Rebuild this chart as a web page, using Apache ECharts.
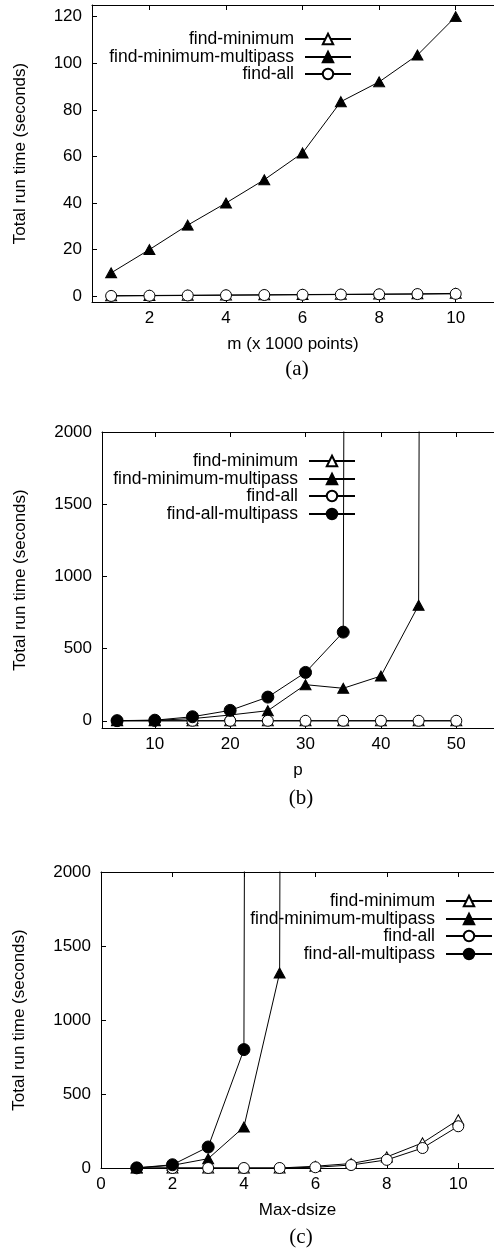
<!DOCTYPE html>
<html>
<head>
<meta charset="utf-8">
<script src="https://cdn.jsdelivr.net/npm/echarts@6/dist/echarts.min.js"></script>
<style>
  html, body { margin: 0; padding: 0; background: #fff; }
  #chart { width: 494px; height: 1252px; }
</style>
</head>
<body>
<div id="chart"></div>
<script>
// (a) run time vs m
const mValues = [1, 2, 3, 4, 5, 6, 7, 8, 9, 10];
const aFindMinimum = [0.2, 0.3, 0.4, 0.5, 0.6, 0.7, 0.8, 0.9, 1.0, 1.2];
const aFindMinimumMultipass = [10, 20, 30.5, 40, 50, 61.5, 83.5, 92, 103.5, 120];
const aFindAll = [0.1, 0.2, 0.3, 0.4, 0.5, 0.6, 0.7, 0.8, 0.9, 1.0];

// (b) run time vs p
const pValues = [5, 10, 15, 20, 25, 30, 35, 40, 45, 50];
const bFindMinimum = [0, 0, 0, 0, 0, 0, 0, 0, 0, 0];
const bFindMinimumMultipass = [1, 3, 15, 40, 70, 250, 225, 310, 800, 90000];
const bFindAll = [0, 0, 0, 0, 0, 0, 0, 0, 0, 0];
const bFindAllMultipass = [1, 4, 28, 72, 164, 335, 614, 90000];

// (c) run time vs Max-dsize
const dsizeValues = [1, 2, 3, 4, 5, 6, 7, 8, 9, 10];
const cFindMinimum = [0, 0, 0, 0, 0, 12, 30, 75, 170, 326];
const cFindMinimumMultipass = [1, 18, 63, 277, 1318, 90000];
const cFindAll = [0, 0, 0, 0, 0, 5, 20, 55, 135, 282];
const cFindAllMultipass = [1, 22, 142, 800, 90000];

const aXTicks = [2, 4, 6, 8, 10];
const aYTicks = [0, 20, 40, 60, 80, 100, 120];
const bXTicks = [10, 20, 30, 40, 50];
const bYTicks = [0, 500, 1000, 1500, 2000];
const cXTicks = [0, 2, 4, 6, 8, 10];
const cYTicks = [0, 500, 1000, 1500, 2000];

const FONT = 'Liberation Sans';
const SERIF = 'Liberation Serif';

function pts(xs, ys) {
  return ys.map(function (y, i) { return [xs[i], y]; });
}

var styles = {
  'find-minimum': { symbol: 'triangle', size: [11, 10], fill: '#fff' },
  'find-minimum-multipass': { symbol: 'triangle', size: [11, 10], fill: '#000' },
  'find-all': { symbol: 'circle', size: 11, fill: '#fff' },
  'find-all-multipass': { symbol: 'circle', size: 12, fill: '#000' }
};

function line(name, idx, data) {
  var s = styles[name];
  return {
    name: name,
    type: 'line',
    xAxisIndex: idx * 2,
    yAxisIndex: idx,
    data: data,
    symbol: s.symbol,
    symbolSize: s.size,
    showAllSymbol: true,
    clip: true,
    lineStyle: { color: '#000', width: 1 },
    itemStyle: { color: s.fill, borderColor: '#000', borderWidth: 1 },
    emphasis: { disabled: true }
  };
}

function plain(v) { return String(v); }

function xAxes(idx, min, max, ticks, name, nameGap) {
  var tick = { show: true, inside: true, length: 5, lineStyle: { color: '#000' }, customValues: ticks };
  return [{
    type: 'value', gridIndex: idx, min: min, max: max, position: 'bottom',
    name: name, nameLocation: 'middle', nameGap: nameGap,
    nameTextStyle: { fontFamily: FONT, fontSize: 17, color: '#000' },
    axisLine: { show: true, onZero: false, lineStyle: { color: '#000', width: 1 } },
    axisTick: tick,
    axisLabel: { fontFamily: FONT, fontSize: 17, color: '#000', margin: 8, customValues: ticks, formatter: plain },
    splitLine: { show: false }
  }, {
    type: 'value', gridIndex: idx, min: min, max: max, position: 'top',
    axisLine: { show: true, onZero: false, lineStyle: { color: '#000', width: 1 } },
    axisTick: tick,
    axisLabel: { show: false },
    splitLine: { show: false }
  }];
}

function yAxis(idx, min, max, ticks, nameGap) {
  return {
    type: 'value', gridIndex: idx, min: min, max: max,
    name: 'Total run time (seconds)', nameLocation: 'middle', nameGap: nameGap,
    nameTextStyle: { fontFamily: FONT, fontSize: 17, color: '#000' },
    axisLine: { show: true, onZero: false, lineStyle: { color: '#000', width: 1 } },
    axisTick: { show: true, inside: true, length: 5, lineStyle: { color: '#000' }, customValues: ticks },
    axisLabel: { fontFamily: FONT, fontSize: 17, color: '#000', margin: 10, customValues: ticks, formatter: plain },
    splitLine: { show: false }
  };
}

function legends(names, right, tops) {
  return names.map(function (n, i) {
    return {
      data: [n], orient: 'vertical', align: 'right', right: right, top: tops[i],
      padding: 0, itemWidth: 46, itemHeight: 13, selectedMode: false,
      textStyle: { fontFamily: FONT, fontSize: 17.5, color: '#000', padding: [0, 6, 0, 0] }
    };
  });
}

var names3 = ['find-minimum', 'find-minimum-multipass', 'find-all'];
var names4 = ['find-minimum', 'find-minimum-multipass', 'find-all', 'find-all-multipass'];

var chart = echarts.init(document.getElementById('chart'), null, { renderer: 'canvas' });
chart.setOption({
  animation: false,
  title: [
    { text: '(a)', left: 297, top: 359, textAlign: 'center', padding: 0,
      textStyle: { fontFamily: SERIF, fontSize: 21, fontWeight: 'normal', color: '#000' } },
    { text: '(b)', left: 301, top: 788, textAlign: 'center', padding: 0,
      textStyle: { fontFamily: SERIF, fontSize: 21, fontWeight: 'normal', color: '#000' } },
    { text: '(c)', left: 301, top: 1227, textAlign: 'center', padding: 0,
      textStyle: { fontFamily: SERIF, fontSize: 21, fontWeight: 'normal', color: '#000' } }
  ],
  legend: []
    .concat(legends(names3, 142, [30, 48, 65]))
    .concat(legends(names4, 138, [452, 470, 487, 505]))
    .concat(legends(names4, 1, [892, 910, 927, 945])),
  grid: [
    { left: 92, right: -8, top: 5, height: 297 },
    { left: 102, right: -7, top: 432, height: 296 },
    { left: 101, right: -7, top: 872, height: 296 }
  ],
  xAxis: []
    .concat(xAxes(0, 0.5, 11, aXTicks, 'm (x 1000 points)', 34))
    .concat(xAxes(1, 3, 55, bXTicks, 'p', 34))
    .concat(xAxes(2, 0, 11, cXTicks, 'Max-dsize', 34)),
  yAxis: [
    yAxis(0, -2.5, 125, aYTicks, 63),
    yAxis(1, -50, 2000, bYTicks, 73),
    yAxis(2, 0, 2000, cYTicks, 73)
  ],
  series: [
    line('find-minimum', 0, pts(mValues, aFindMinimum)),
    line('find-minimum-multipass', 0, pts(mValues, aFindMinimumMultipass)),
    line('find-all', 0, pts(mValues, aFindAll)),

    line('find-minimum', 1, pts(pValues, bFindMinimum)),
    line('find-minimum-multipass', 1, pts(pValues, bFindMinimumMultipass)),
    line('find-all', 1, pts(pValues, bFindAll)),
    line('find-all-multipass', 1, pts(pValues, bFindAllMultipass)),

    line('find-minimum', 2, pts(dsizeValues, cFindMinimum)),
    line('find-minimum-multipass', 2, pts(dsizeValues, cFindMinimumMultipass)),
    line('find-all', 2, pts(dsizeValues, cFindAll)),
    line('find-all-multipass', 2, pts(dsizeValues, cFindAllMultipass))
  ]
});
</script>
</body>
</html>
